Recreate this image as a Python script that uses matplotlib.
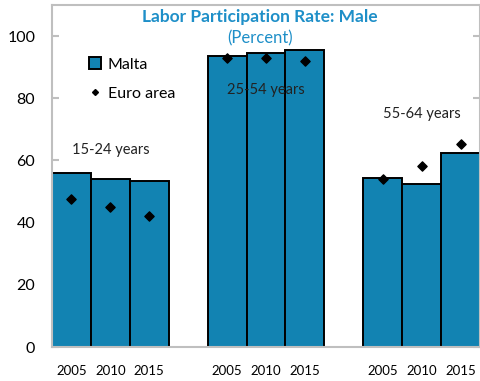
import matplotlib
matplotlib.use("Agg")
import matplotlib.pyplot as plt
from matplotlib.patches import Patch
from matplotlib.lines import Line2D

plt.rcParams['font.family'] = ['Lato', 'DejaVu Sans']

years = ['2005', '2010', '2015']
age_groups = ['15-24 years', '25-54 years', '55-64 years']
malta = [[55.9, 53.9, 53.3],
         [93.6, 94.7, 95.6],
         [54.3, 52.5, 62.4]]
euro_area = [[47.6, 45.1, 42.0],
             [93.1, 93.1, 91.9],
             [54.2, 58.3, 65.3]]
label_heights = [63.5, 82.8, 74.8]

bar_color = '#1283b2'
title_color = '#1e8fc8'
grey = '#bfbfbf'

fig = plt.figure(figsize=(4.81, 3.81), dpi=100)
ax = fig.add_axes([0.108, 0.089, 0.89, 0.898])

xs, labels = [], []
for g in range(len(age_groups)):
    pos = [g * 4 + i for i in range(len(years))]
    ax.bar(pos, malta[g], width=1.0, color=bar_color, edgecolor='black',
           linewidth=1.4, zorder=2)
    ax.scatter(pos, euro_area[g], marker='D', s=22, color='black', zorder=3)
    ax.text(g * 4 + 1, label_heights[g], age_groups[g], ha='center',
            va='center', fontsize=10.5, color='#222222', zorder=4)
    xs += pos
    labels += years

ax.set_xlim(-0.5, 10.5)
ax.set_ylim(0, 110)
ax.set_xticks(xs)
ax.set_xticklabels(labels, fontsize=9.5)
ax.set_yticks([0, 20, 40, 60, 80, 100])
ax.tick_params(axis='x', length=0, pad=13)
ax.tick_params(axis='y', direction='in', length=5, color=grey, width=1.5,
               labelsize=11.5, pad=12, right=True)
for s in ax.spines.values():
    s.set_color(grey)
    s.set_linewidth(1.5)

ax.text(0.485, 0.988, 'Labor Participation Rate: Male', transform=ax.transAxes,
        ha='center', va='top', fontsize=12.5, fontweight='bold', color=title_color)
ax.text(0.485, 0.925, '(Percent)', transform=ax.transAxes,
        ha='center', va='top', fontsize=12, color=title_color)

handles = [Patch(facecolor=bar_color, edgecolor='black', linewidth=1.4),
           Line2D([], [], marker='D', color='black', linestyle='none', markersize=3)]
ax.legend(handles, ['Malta', 'Euro area'], loc='upper left',
          bbox_to_anchor=(0.052, 0.89), frameon=False, fontsize=11.5,
          handlelength=0.8, handleheight=0.8, handletextpad=0.4,
          labelspacing=0.9)

fig.savefig('out.png', dpi=100)
